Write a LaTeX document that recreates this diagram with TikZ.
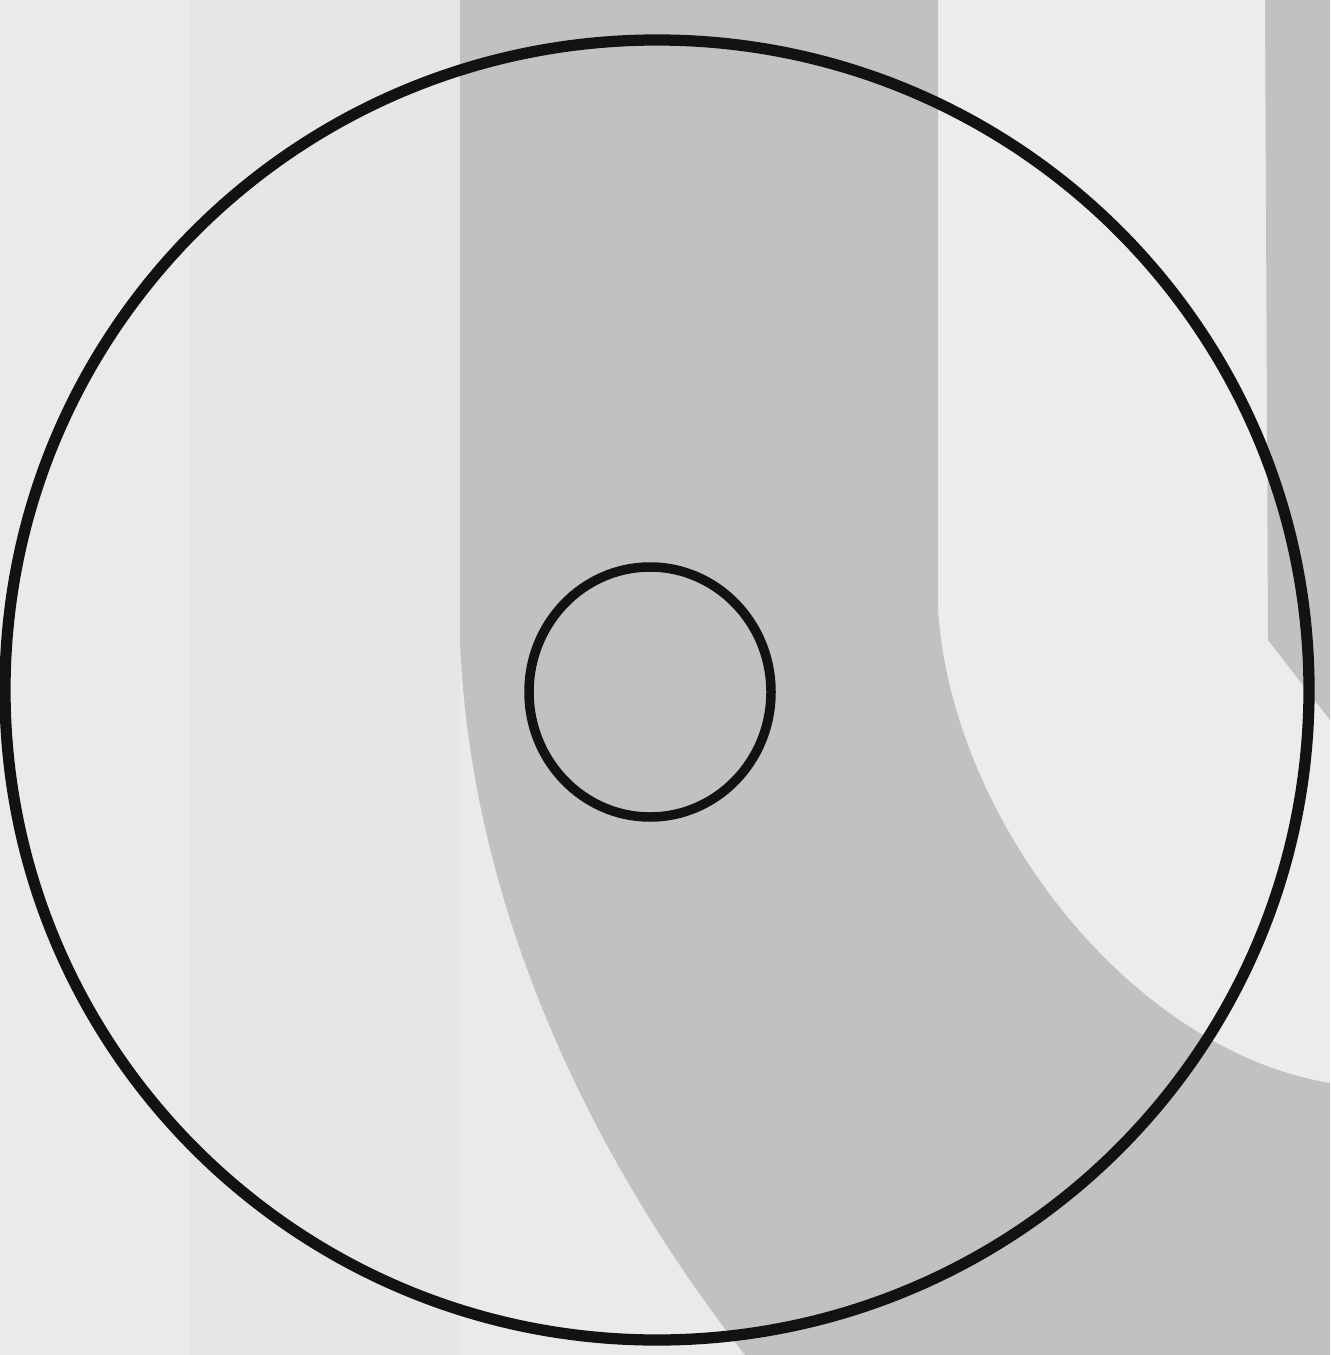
\documentclass[tikz,border=0pt]{standalone}
\definecolor{paper}{HTML}{EAEAEA}
\definecolor{paperlight}{HTML}{ECECEC}
\definecolor{paperstrip}{HTML}{E6E6E6}
\definecolor{band}{HTML}{C1C1C1}
\definecolor{ink}{HTML}{121212}
\tikzset{
  outline/.style={draw=ink, line width=3.2pt},
  inner outline/.style={draw=ink, line width=2.7pt},
}
\begin{document}
\begin{tikzpicture}[x=0.01cm,y=-0.01cm]
\useasboundingbox (0,0) rectangle (1330,1355);
% paper background
\fill[paper] (0,0) rectangle (1330,1355);
\fill[paperstrip] (190,0) rectangle (460,1355);
\fill[paperlight] (938,0) rectangle (1330,1355);
% right grey strip
\fill[band] (1265,0) -- (1330,0) -- (1330,720) -- (1268,640) -- cycle;
% curved grey band
\fill[band] (460,0) -- (938,0) -- (938,610)
  .. controls (952,820) and (1130,1050) .. (1330,1083)
  -- (1330,1355) -- (745,1355)
  .. controls (585,1150) and (470,900) .. (460,640) -- cycle;
% circles
\draw[outline] (657,690) ellipse [x radius=652, y radius=650];
\draw[inner outline] (650,692) ellipse [x radius=121, y radius=125];
\end{tikzpicture}
\end{document}
